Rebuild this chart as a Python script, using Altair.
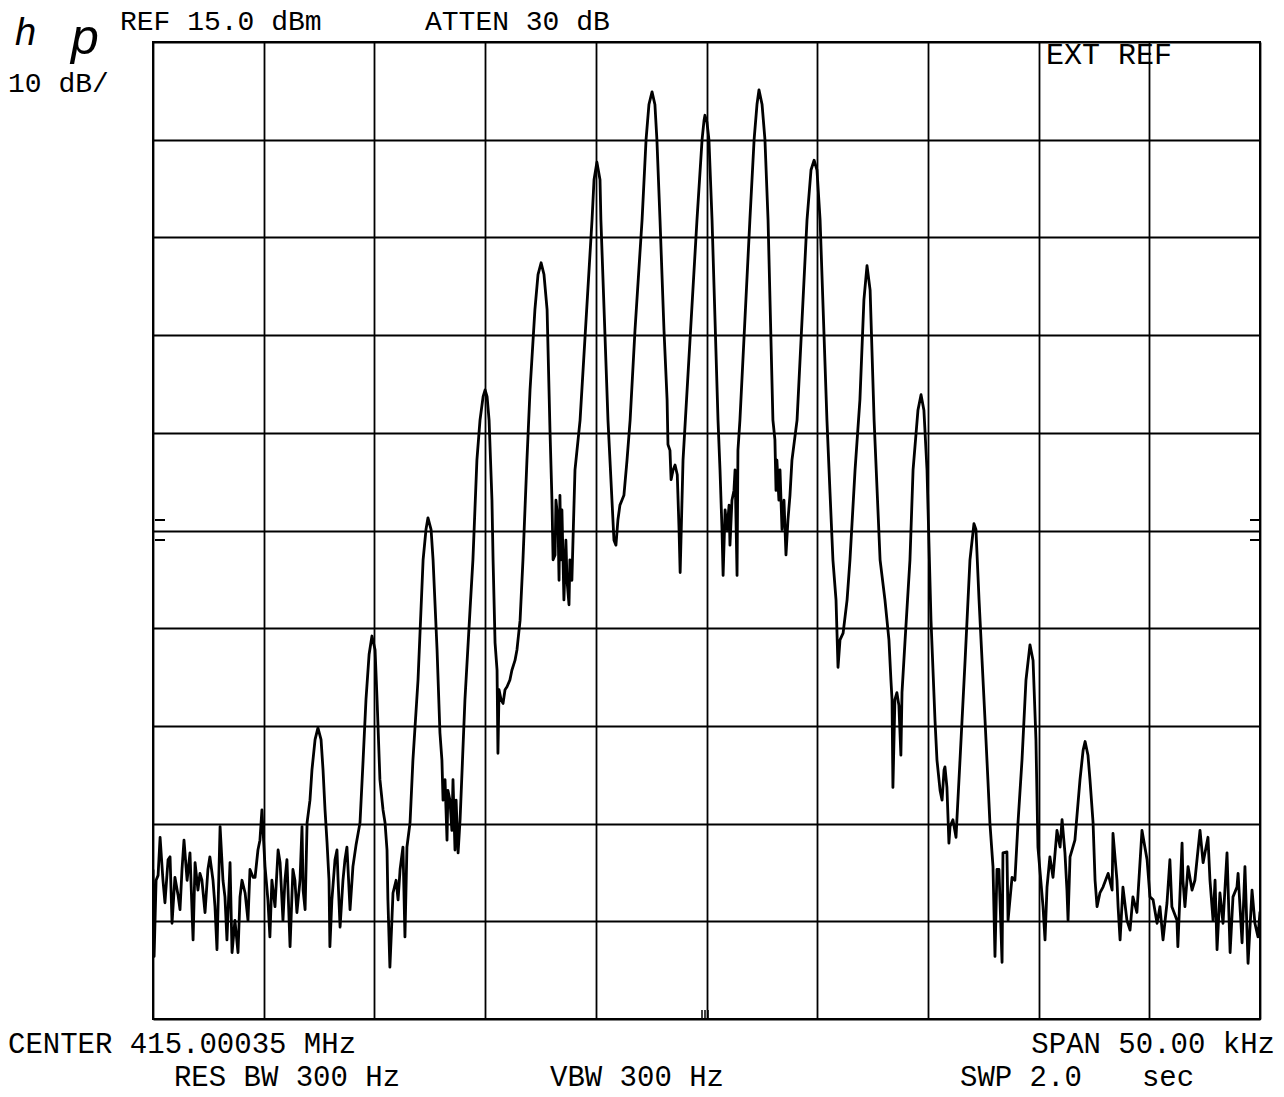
import altair as alt
import pandas as pd

# ---- trace: frequency offset from centre (kHz), level (dBm)
FREQ_KHZ = [
    -25.00, -24.95, -24.86, -24.77, -24.68, -24.55, -24.46, -24.32, -24.23, -24.14,
    -24.01, -23.87, -23.78, -23.69, -23.60, -23.46, -23.33, -23.19, -23.10, -22.97,
    -22.88, -22.79, -22.65, -22.52, -22.43, -22.29, -22.20, -22.11, -21.97, -21.84,
    -21.75, -21.66, -21.52, -21.43, -21.30, -21.16, -21.07, -20.98, -20.84, -20.71,
    -20.62, -20.48, -20.39, -20.26, -20.17, -20.08, -19.94, -19.81, -19.72, -19.63,
    -19.49, -19.35, -19.26, -19.13, -19.04, -18.95, -18.81, -18.68, -18.59, -18.50,
    -18.36, -18.27, -18.22, -18.13, -18.04, -17.91,
    -17.82, -17.68, -17.55, -17.41, -17.32, -17.23, -17.14, -17.05, -17.01, -16.92,
    -16.78, -16.69, -16.64, -16.55, -16.42, -16.33, -16.24, -16.10, -16.01, -15.97,
    -15.83, -15.65, -15.51, -15.38, -15.24, -15.11, -14.97, -14.88, -14.75, -14.61,
    -14.52, -14.43, -14.39, -14.30, -14.21, -14.16, -14.02, -13.93, -13.84, -13.71,
    -13.62, -13.53, -13.39, -13.26, -13.03, -12.80, -12.67, -12.58, -12.44, -12.35,
    -12.17, -12.04, -11.95, -11.90, -11.81, -11.72, -11.68, -11.59, -11.50, -11.45,
    -11.36, -11.31, -11.22, -11.13, -10.91, -10.68, -10.55, -10.37, -10.23, -10.09,
    -10.00, -9.91, -9.82, -9.69, -9.64, -9.55, -9.46, -9.42, -9.37, -9.28,
    -9.19, -9.10, -9.01, -8.88, -8.79, -8.65, -8.56, -8.42, -8.29, -8.11,
    -7.97, -7.75, -7.61, -7.47, -7.34, -7.20, -7.07, -6.98, -6.93, -6.84,
    -6.80, -6.71, -6.66, -6.62, -6.57, -6.53, -6.44, -6.35, -6.30, -6.21,
    -6.17, -6.08, -6.03, -5.94, -5.71, -5.17, -5.08, -4.95, -4.81, -4.77,
    -4.45, -4.27, -4.18, -4.09, -4.00, -3.91, -3.82, -3.73, -3.59, -3.45,
    -3.23, -2.91, -2.73, -2.60, -2.46, -2.33, -2.24, -2.10, -1.92, -1.78,
    -1.74, -1.65, -1.60, -1.51, -1.42, -1.32, -1.24, -1.19, -1.06, -0.43,
    -0.20, -0.11, -0.07, 0.02, 0.11, 0.25, 0.52, 0.61, 0.70, 0.75,
    0.84, 0.93, 1.02, 1.06, 1.15, 1.24, 1.29, 1.38, 1.42, 1.51,
    1.96, 2.15, 2.28, 2.37, 2.51, 2.64, 2.78, 3.00, 3.09, 3.14,
    3.18, 3.27, 3.32, 3.41, 3.50, 3.59, 3.68, 3.77, 3.86, 4.09,
    4.54, 4.72, 4.86, 4.99, 5.13, 5.44, 5.58, 5.71, 5.85, 5.94,
    6.03, 6.17, 6.35, 6.48, 6.71, 6.93, 7.11, 7.25, 7.39, 7.57,
    7.84, 8.06, 8.24, 8.33, 8.38, 8.42, 8.51, 8.60, 8.69, 8.78,
    8.83, 8.97, 9.19, 9.33, 9.55, 9.69, 9.82, 9.96, 10.14, 10.32,
    10.41, 10.55, 10.64, 10.73, 10.77, 10.86, 10.95, 11.00, 11.13, 11.27,
    11.31, 11.45, 11.68, 11.90, 12.08, 12.17, 12.31, 12.58, 12.71, 12.80,
    12.94, 13.03, 13.12, 13.21, 13.35, 13.39, 13.57, 13.62, 13.80, 13.93,
    14.07, 14.25, 14.43, 14.61, 14.75, 14.88, 14.97, 15.20, 15.29, 15.38,
    15.51, 15.65, 15.83, 15.97, 16.06, 16.19, 16.28, 16.33, 16.42, 16.64,
    16.87, 17.01, 17.10, 17.23, 17.32, 17.46, 17.55, 17.64, 17.77, 17.91,
    18.14, 18.32, 18.36, 18.54, 18.59, 18.68, 18.81, 18.99, 19.13, 19.26,
    19.44, 19.67, 19.90, 20.03, 20.17, 20.35, 20.48, 20.62, 20.80, 20.93,
    21.02, 21.25, 21.29, 21.48, 21.52, 21.61, 21.75, 21.93, 22.06, 22.29,
    22.43, 22.65, 22.74, 22.88, 22.97, 23.06, 23.19, 23.33, 23.51, 23.65,
    23.78, 23.96, 24.01, 24.19, 24.32, 24.46, 24.64, 24.77, 24.91, 25.00,
]

LEVEL_DBM = [
    -69.7, -78.6, -70.8, -70.3, -66.4, -70.8, -73.1, -68.7, -68.4, -75.2,
    -70.5, -72.3, -73.8, -69.7, -66.7, -70.8, -68.0, -76.9, -69.0, -71.8,
    -70.1, -70.8, -74.1, -69.7, -68.4, -70.8, -73.5, -77.9, -65.3, -70.8,
    -72.5, -76.9, -69.0, -78.2, -74.9, -78.2, -72.5, -70.8, -72.1, -74.9,
    -69.7, -70.5, -70.5, -67.7, -66.7, -63.6, -69.4, -72.8, -76.6, -70.8,
    -73.5, -67.7, -69.0, -74.9, -70.8, -68.7, -77.6, -69.7, -70.8, -74.1,
    -70.8, -65.3, -71.8, -73.8, -64.9, -62.6,
    -59.5, -56.4, -55.2, -56.4, -59.5, -63.6, -66.9, -70.8, -77.6, -72.8,
    -68.7, -67.7, -70.8, -75.6, -70.8, -68.7, -67.4, -73.8, -70.8, -69.4,
    -67.2, -64.9, -58.5, -52.3, -47.7, -45.8, -47.2, -52.3, -60.5, -63.6,
    -64.9, -67.7, -72.8, -79.7, -74.9, -72.1, -70.8, -72.8, -69.7, -67.4,
    -76.6, -67.4, -64.9, -58.5, -50.3, -38.0, -34.9, -33.7, -34.9, -38.0,
    -47.2, -55.7, -58.5, -62.6, -60.5, -66.7, -61.6, -62.6, -65.7, -60.5,
    -67.7, -62.6, -68.0, -64.6, -52.3, -43.1, -38.0, -27.8, -23.7, -21.3,
    -20.6, -21.3, -23.7, -31.9, -38.0, -46.5, -49.3, -57.8, -51.3, -52.3,
    -52.7, -51.3, -51.0, -50.3, -49.3, -48.3, -47.2, -44.2, -38.0, -27.8,
    -20.6, -12.4, -8.8, -7.6, -8.8, -12.4, -24.7, -31.9, -38.0, -37.5,
    -31.9, -33.9, -40.1, -31.4, -38.0, -32.9, -42.1, -36.0, -40.1, -42.6,
    -38.0, -40.1, -36.0, -28.8, -23.7, -3.2, 0.9, 2.7, 0.9, -3.2,
    -23.7, -31.9, -36.0, -36.5, -33.9, -32.4, -31.9, -31.4, -27.8, -23.7,
    -14.5, -3.2, 5.0, 8.6, 9.9, 8.6, 5.0, -3.2, -14.5, -21.6,
    -26.2, -26.8, -29.8, -28.8, -28.3, -29.3, -34.9, -39.3, -27.8, -3.2,
    5.0, 7.0, 7.5, 6.8, 5.0, -3.2, -23.7, -28.8, -34.9, -39.6,
    -32.9, -34.9, -32.4, -36.5, -31.9, -30.9, -28.8, -39.6, -26.8, -23.7,
    -3.2, 5.0, 8.6, 10.1, 8.6, 5.0, -3.2, -23.7, -25.7, -30.9,
    -27.8, -31.9, -28.8, -34.9, -31.9, -37.5, -33.9, -31.4, -27.8, -23.7,
    -3.2, 1.9, 2.9, 1.9, -3.2, -23.7, -31.2, -38.0, -42.1, -49.0,
    -46.2, -45.5, -42.1, -38.0, -28.8, -21.6, -11.4, -7.9, -10.4, -23.7,
    -38.0, -42.1, -46.2, -50.3, -52.3, -61.3, -52.3, -51.6, -52.9, -58.0,
    -51.6, -46.2, -38.0, -28.8, -22.7, -21.1, -22.7, -28.8, -44.2, -54.4,
    -58.5, -61.6, -62.6, -59.5, -59.2, -61.3, -67.0, -65.3, -64.6, -66.4,
    -64.6, -58.5, -48.3, -38.0, -34.3, -34.9, -42.1, -54.4, -60.5, -64.9,
    -69.4, -78.6, -69.7, -69.7, -79.2, -68.0, -67.9, -74.9, -70.5, -70.8,
    -64.9, -58.5, -50.3, -46.7, -48.3, -56.4, -67.4, -73.5, -76.9, -71.5,
    -68.4, -70.5, -65.7, -67.4, -64.6, -68.0, -71.8, -74.9, -68.4, -66.7,
    -60.5, -57.5, -56.6, -58.0, -60.5, -64.9, -70.8, -73.5, -72.1, -71.5,
    -70.1, -71.8, -66.0, -70.8, -73.5, -76.9, -71.5, -74.9, -75.9, -72.5,
    -74.1, -65.7, -68.7, -72.5, -72.8, -75.2, -73.5, -76.9, -73.1, -68.7,
    -73.5, -74.9, -77.6, -67.0, -70.8, -73.5, -69.4, -71.8, -70.8, -65.7,
    -69.0, -66.4, -70.8, -74.9, -70.8, -77.9, -72.1, -75.2, -68.0, -78.2,
    -72.5, -71.5, -70.1, -77.2, -69.4, -79.3, -71.8, -75.2, -76.6, -74.0,
]

X_GRID_KHZ = [-25, -20, -15, -10, -5, 0, 5, 10, 15, 20, 25]
Y_GRID_DBM = [-85, -75, -65, -55, -45, -35, -25, -15, -5, 5, 15]

TOP_LABELS = ["REF 15.0 dBm", "ATTEN 30 dB"]
SCALE_LABEL = "10 dB/"
CORNER_LABEL = "EXT REF"
BOTTOM_LABELS = ["CENTER 415.00035 MHz", "SPAN 50.00 kHz"]
SETTING_LABELS = ["RES BW 300 Hz", "VBW 300 Hz", "SWP 2.0", "sec"]

assert len(FREQ_KHZ) == len(LEVEL_DBM)

trace = pd.DataFrame({"i": list(range(len(FREQ_KHZ))), "f": FREQ_KHZ, "L": LEVEL_DBM})

W, H = 1107, 977
FONT = "Liberation Mono"

x_axis = alt.Axis(values=X_GRID_KHZ, grid=True, labels=False, ticks=False, domain=False,
                  title=None, gridColor="black", gridWidth=1.8, gridOpacity=1)
y_axis = alt.Axis(values=Y_GRID_DBM, grid=True, labels=False, ticks=False, domain=False,
                  title=None, gridColor="black", gridWidth=1.8, gridOpacity=1)

line = alt.Chart(trace).mark_line(color="black", strokeWidth=2.8, strokeJoin="round", clip=True).encode(
    x=alt.X("f:Q", scale=alt.Scale(domain=[-25, 25], nice=False, zero=False), axis=x_axis),
    y=alt.Y("L:Q", scale=alt.Scale(domain=[-85, 15], nice=False, zero=False), axis=y_axis),
    order="i:Q",
)


def label(text, x, y, size, align="left", font=FONT, style="normal"):
    return alt.Chart(pd.DataFrame({"t": [text]})).mark_text(
        align=align, baseline="alphabetic", font=font, fontSize=size,
        fontStyle=style, color="black",
    ).encode(x=alt.value(x), y=alt.value(y), text="t:N")


def hrule(x1, x2, y):
    return alt.Chart(pd.DataFrame({"a": [0]})).mark_rule(color="black", strokeWidth=2).encode(
        x=alt.value(x1), x2=alt.value(x2), y=alt.value(y))


def vrule(x, y1, y2):
    return alt.Chart(pd.DataFrame({"a": [0]})).mark_rule(color="black", strokeWidth=1.5).encode(
        x=alt.value(x), y=alt.value(y1), y2=alt.value(y2))


layers = [
    line,
    label("h", -138, 3, 38, font="Liberation Sans", style="italic"),
    label("p", -82, 12, 50, font="Liberation Sans", style="italic"),
    label(TOP_LABELS[0], -33, -12, 28),
    label(TOP_LABELS[1], 272, -12, 28),
    label(SCALE_LABEL, -145, 50, 28),
    label(CORNER_LABEL, 893, 22, 30),
    label(BOTTOM_LABELS[0], -145, 1011, 29),
    label(BOTTOM_LABELS[1], 1122, 1011, 29, align="right"),
    label(SETTING_LABELS[0], 134, 1044, 29, align="center"),
    label(SETTING_LABELS[1], 484, 1044, 29, align="center"),
    label(SETTING_LABELS[2], 807, 1044, 29),
    label(SETTING_LABELS[3], 1015, 1044, 29, align="center"),
    hrule(2, 12, 478), hrule(2, 12, 498),
    hrule(1097, 1107, 478), hrule(1097, 1107, 498),
    vrule(549, 968, 977), vrule(552, 968, 977), vrule(555, 968, 977),
]

chart = alt.layer(*layers).properties(
    width=W, height=H,
    padding={"left": 145, "top": 34, "right": 16, "bottom": 76},
    autosize=alt.AutoSizeParams(type="none"),
    background="white",
).configure_view(stroke="black", strokeWidth=2)

chart.save("out.html", embed_options={"renderer": "svg", "actions": False})
